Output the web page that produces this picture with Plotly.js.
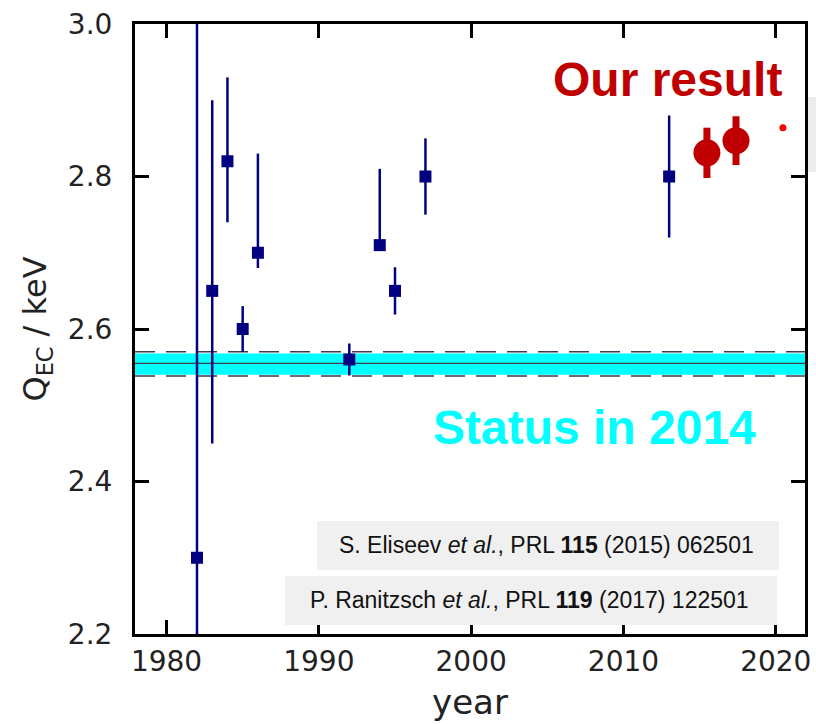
<!DOCTYPE html>
<html>
<head>
<meta charset="utf-8">
<script src="https://cdn.plot.ly/plotly-3.0.1.min.js"></script>
<style>html,body{margin:0;padding:0;background:#fff;}#chart{width:816px;height:724px;}</style>
</head>
<body>
<div id="chart"></div>
<script>
// ---- data ----
const prevYears    = [1982, 1983, 1984, 1985, 1986, 1992, 1994, 1995, 1997, 2013];
const prevQ        = [2.30, 2.65, 2.82, 2.60, 2.70, 2.56, 2.71, 2.65, 2.80, 2.80];
const prevErrPlus  = [0.75, 0.25, 0.11, 0.03, 0.13, 0.021, 0.10, 0.031, 0.05, 0.08];
const prevErrMinus = [0.75, 0.20, 0.08, 0.03, 0.02, 0.021, 0.005, 0.031, 0.05, 0.08];

const ourYears = [2015.48, 2017.39];
const ourQ     = [2.831, 2.847];
const ourErr   = [0.033, 0.032];

const dotYears = [2020.47];
const dotQ     = [2.864];

const statusCenter = 2.555;
const statusBand   = [2.540, 2.568];
const statusDashed = [2.5385, 2.5702];

const xRange = [1977.93, 2021.92];
const yRange = [2.2, 3.0];
const xTickVals = [1980, 1990, 2000, 2010, 2020];
const yTickVals = [2.2, 2.4, 2.6, 2.8, 3.0];

const ref1 = "S. Eliseev <i>et al.</i>, PRL <b>115</b> (2015) 062501";
const ref2 = "P. Ranitzsch <i>et al.</i>, PRL <b>119</b> (2017) 122501";

// ---- traces ----
const traces = [
  {
    type: 'scatter', mode: 'markers', x: prevYears, y: prevQ,
    marker: {symbol: 'square', size: 12, color: '#000080'},
    error_y: {type: 'data', symmetric: false, array: prevErrPlus, arrayminus: prevErrMinus,
              width: 0, thickness: 2.5, color: '#000080'},
    showlegend: false, hoverinfo: 'x+y'
  },
  {
    type: 'scatter', mode: 'markers', x: ourYears, y: ourQ,
    marker: {symbol: 'circle', size: 27, color: '#c00000'},
    error_y: {type: 'data', array: ourErr, width: 0, thickness: 7, color: '#c00000'},
    showlegend: false, hoverinfo: 'x+y'
  },
  {
    type: 'scatter', mode: 'markers', x: dotYears, y: dotQ,
    marker: {symbol: 'circle', size: 7, color: '#ff0000'},
    showlegend: false, hoverinfo: 'x+y'
  }
];

// ---- layout helpers (pixel -> paper) ----
const L = 135, R = 11, T = 24, B = 90, W = 816, H = 724;
const pw = W - L - R, ph = H - T - B;
const px = v => (v - L) / pw;
const py = v => (H - B - v) / ph;

const shapes = [
  {type: 'rect', xref: 'paper', yref: 'y', x0: 0, x1: 1, y0: statusBand[0], y1: statusBand[1],
   fillcolor: '#00ffff', line: {width: 0}, layer: 'below'},
  {type: 'line', xref: 'paper', yref: 'y', x0: 0, x1: 1, y0: statusCenter, y1: statusCenter,
   line: {color: '#404048', width: 1.2}, layer: 'below'},
  {type: 'line', xref: 'paper', yref: 'y', x0: 0, x1: 1, y0: statusDashed[0], y1: statusDashed[0],
   line: {color: '#4a3550', width: 1.5, dash: '20px,11px'}, layer: 'below'},
  {type: 'line', xref: 'paper', yref: 'y', x0: 0, x1: 1, y0: statusDashed[1], y1: statusDashed[1],
   line: {color: '#4a3550', width: 1.5, dash: '20px,11px'}, layer: 'below'},
  {type: 'rect', xref: 'paper', yref: 'paper', x0: px(317), x1: px(779), y0: py(570), y1: py(521),
   fillcolor: '#f0f0f0', line: {width: 0}, layer: 'above'},
  {type: 'rect', xref: 'paper', yref: 'paper', x0: px(285), x1: px(777), y0: py(625), y1: py(576),
   fillcolor: '#f0f0f0', line: {width: 0}, layer: 'above'},
  {type: 'rect', xref: 'paper', yref: 'paper', x0: px(808), x1: px(816), y0: py(172), y1: py(97),
   fillcolor: '#ededed', line: {width: 0}, layer: 'above'}
];

const annotations = [
  {xref: 'paper', yref: 'paper', x: px(784), y: py(79), xanchor: 'right', yanchor: 'middle',
   text: '<b>Our result</b>', showarrow: false,
   font: {family: 'Liberation Sans, Arial, sans-serif', size: 48, color: '#c00000'}},
  {xref: 'paper', yref: 'paper', x: px(594.5), y: py(427), xanchor: 'center', yanchor: 'middle',
   text: '<b>Status in 2014</b>', showarrow: false,
   font: {family: 'Liberation Sans, Arial, sans-serif', size: 48, color: '#00ffff'}},
  {xref: 'paper', yref: 'paper', x: px(546.5), y: py(545), xanchor: 'center', yanchor: 'middle',
   text: ref1, showarrow: false,
   font: {family: 'Liberation Sans, Arial, sans-serif', size: 23, color: '#111111'}},
  {xref: 'paper', yref: 'paper', x: px(529), y: py(600), xanchor: 'center', yanchor: 'middle',
   text: ref2, showarrow: false,
   font: {family: 'Liberation Sans, Arial, sans-serif', size: 23, color: '#111111'}}
];

const layout = {
  width: W, height: H,
  margin: {l: L, r: R, t: T, b: B, pad: 0},
  paper_bgcolor: '#ffffff', plot_bgcolor: '#ffffff',
  xaxis: {
    showline: true, linewidth: 3, linecolor: '#000000', mirror: 'allticks',
    ticks: 'inside', ticklen: 14, tickwidth: 3, tickcolor: '#000000',
    showgrid: false, zeroline: false,
    tickfont: {family: 'DejaVu Sans, sans-serif', size: 28, color: '#222222'},
    range: xRange, tickmode: 'array', tickvals: xTickVals,
    title: {text: 'year', standoff: 14,
            font: {family: 'DejaVu Sans, sans-serif', size: 34, color: '#222222'}}
  },
  yaxis: {
    showline: true, linewidth: 3, linecolor: '#000000', mirror: 'allticks',
    ticks: 'inside', ticklen: 14, tickwidth: 3, tickcolor: '#000000',
    showgrid: false, zeroline: false,
    tickfont: {family: 'DejaVu Sans, sans-serif', size: 28, color: '#222222'},
    range: yRange, tickmode: 'array', tickvals: yTickVals, tickformat: '.1f',
    ticklabelstandoff: 14,
    title: {text: 'Q<sub>EC</sub> / keV', standoff: 12,
            font: {family: 'DejaVu Sans, sans-serif', size: 32, color: '#222222'}}
  },
  shapes: shapes,
  annotations: annotations,
  showlegend: false
};

Plotly.newPlot('chart', traces, layout, {displayModeBar: false});
</script>
</body>
</html>
